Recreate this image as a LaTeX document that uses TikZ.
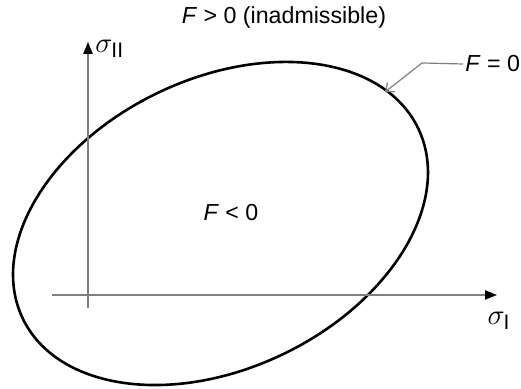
\documentclass[tikz,border=0pt]{standalone}
\usepackage{amsmath}
\usepackage{fontspec}
\setmainfont{Liberation Sans}
\usepackage{tikz}
\usetikzlibrary{arrows.meta,positioning}

\tikzset{
  lbl/.style={font=\fontsize{11.6}{14}\selectfont,inner sep=1pt},
  axlbl/.style={font=\fontsize{15}{18}\selectfont,inner sep=1pt},
  axisline/.style={gray,line width=0.9pt,-{Triangle[color=black,length=6pt,width=4.6pt]}},
  leader/.style={gray,line width=0.6pt,-{Straight Barb[length=3.5pt,width=6pt]}}
}

\begin{document}
\begin{tikzpicture}[x=0.5pt,y=0.5pt]
\useasboundingbox (0,0) rectangle (521,389);
% yield surface
\draw[line width=1.3pt,rotate around={25.7:(220.5,165.5)}] (220.5,165.5) ellipse [x radius=219.4, y radius=144.9];
% axes
\coordinate (xa) at (52,94);
\coordinate (xb) at (497,94);
\coordinate (ya) at (88,81);
\coordinate (yb) at (88,347);
\draw[axisline] (xa) -- (xb);
\draw[axisline] (ya) -- (yb);
\node[axlbl,anchor=west] (s2) at (93,340) {$\sigma_{\text{II}}$};
\node[axlbl] (s1) at (499,68) {$\sigma_{\text{I}}$};
% labels
\node[lbl] (out) at (284,371) {\textit{F} > 0 (inadmissible)};
\node[lbl] (in) at (231,176) {\textit{F} < 0};
\node[lbl,anchor=west] (surf) at (463,325) {\textit{F} = 0};
\coordinate (bend) at (422,326);
\coordinate (tip) at (385,297);
\draw[leader] (surf.west) -- (bend) -- (tip);
\end{tikzpicture}
\end{document}
